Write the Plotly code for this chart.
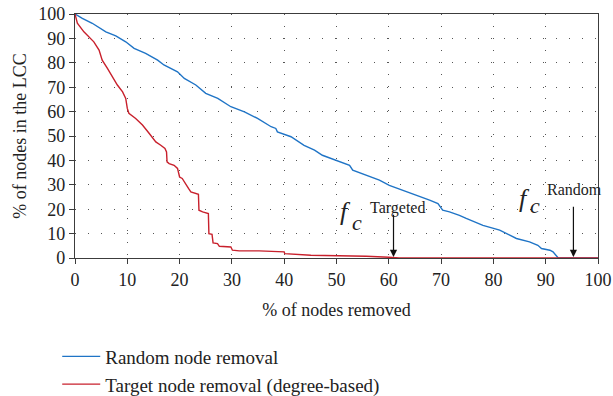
import plotly.graph_objects as go

# Percentage of nodes removed vs. size of the largest connected component (LCC)
random_x = [0, 1.4, 3.3, 4.9, 5.9, 7.8, 9.7, 11.3, 13.5, 15.8, 17.0, 19.6, 20.9, 23.1,
            25.0, 27.3, 29.8, 32.4, 34.9, 37.5, 38.4, 38.7, 41.3, 43.8, 45.8, 47.3,
            49.9, 52.5, 53.1, 55.7, 58.2, 60.1, 62.7, 65.2, 67.8, 69.4, 70.3, 71.6,
            73.5, 74.8, 78.0, 81.2, 84.4, 86.9, 88.5, 89.2, 90.8, 91.4, 92.2, 92.4, 100]
random_y = [100, 98.2, 96.2, 94.1, 92.7, 91.0, 88.6, 85.9, 83.9, 81.1, 79.1, 76.3, 73.6,
            70.9, 67.5, 65.4, 62.0, 59.9, 57.2, 53.8, 53.1, 51.7, 49.7, 46.2, 44.2, 42.1,
            40.1, 38.0, 36.0, 33.9, 31.9, 29.8, 27.8, 25.7, 23.7, 22.3, 19.6, 18.9,
            17.5, 16.2, 13.4, 11.4, 8.0, 6.6, 5.2, 3.9, 3.2, 2.5, 0.2, 0, 0]

target_x = [0, 0.45, 1.7, 2.7, 3.6, 4.6, 5.2, 6.2, 7.2, 8.1, 9.1, 9.7, 10.0, 10.3, 11.6,
            12.9, 14.2, 15.45, 16.4, 17.2, 17.5, 17.6, 18.0, 18.95, 19.6, 20.0, 20.5,
            21.1, 21.7, 22.15, 23.1, 23.6, 23.7, 24.4, 25.5, 25.6, 26.2, 26.4, 27.25,
            27.6, 29.8, 30.1, 31.4, 35.2, 40.0, 40.1, 45.1, 49.9, 55.7, 60.0, 62.0, 100]
target_y = [100, 96.2, 92.7, 90.7, 88.6, 85.2, 81.1, 77.7, 74.3, 70.9, 68.1, 65.4, 61.3,
            59.3, 57.2, 54.5, 51.0, 47.6, 46.2, 44.9, 43.5, 39.4, 38.7, 38.0, 36.7, 33.2,
            32.6, 30.8, 28.5, 27.1, 26.4, 26.1, 19.6, 18.9, 18.2, 10.0, 9.7, 6.2, 5.9,
            4.8, 4.5, 3.2, 2.9, 2.9, 2.5, 1.8, 1.1, 1.0, 0.7, 0.3, 0, 0]

tick_vals = [0, 10, 20, 30, 40, 50, 60, 70, 80, 90, 100]

# critical fractions marked by arrows
fc_targeted = 60.9
fc_random = 95.3

BLUE = "#1f74c6"
RED = "#c8202c"
FONT = "Liberation Serif"
AXIS_COLOR = "#3c3c3c"
TEXT_COLOR = "#222222"

fig = go.Figure()
fig.add_trace(go.Scatter(x=random_x, y=random_y, mode="lines",
                         name="Random node removal",
                         line=dict(color=BLUE, width=1.4)))
fig.add_trace(go.Scatter(x=target_x, y=target_y, mode="lines",
                         name="Target node removal (degree-based)",
                         line=dict(color=RED, width=1.4)))

axis_common = dict(
    range=[0, 100], tickvals=tick_vals, ticks="outside", ticklen=5,
    tickcolor=AXIS_COLOR, tickwidth=1.2,
    showline=True, linecolor=AXIS_COLOR, linewidth=1.3, mirror=True,
    showgrid=True, gridcolor="#555555", gridwidth=1,
    zeroline=False, tickfont=dict(family=FONT, size=18, color=TEXT_COLOR),
)

fig.update_xaxes(**axis_common, griddash="1px,11px",
                 title=dict(text="% of nodes removed",
                            font=dict(family=FONT, size=18, color=TEXT_COLOR),
                            standoff=14))
fig.update_yaxes(**axis_common, griddash="1px,12px",
                 title=dict(text="% of nodes in the LCC",
                            font=dict(family=FONT, size=18, color=TEXT_COLOR),
                            standoff=6))

# f_c labels with their arrows
for fx, cx, lx, ly, fy, cy, label in [
    (51.8, 54.0, 56.0, 20.6, 19.0, 14.6, "Targeted"),
    (86.0, 88.0, 89.9, 28.2, 24.3, 21.6, "Random"),
]:
    fig.add_annotation(x=fx, y=fy, xref="x", yref="y", text="<i>f</i>",
                       showarrow=False, font=dict(family=FONT, size=26, color=TEXT_COLOR))
    fig.add_annotation(x=cx, y=cy, xref="x", yref="y", text="<i>c</i>",
                       showarrow=False, font=dict(family=FONT, size=22, color=TEXT_COLOR))
    fig.add_annotation(x=lx, y=ly, xref="x", yref="y", text=label, xanchor="left",
                       showarrow=False, font=dict(family=FONT, size=16, color=TEXT_COLOR))

for ax_x, top in [(fc_targeted, 18.3), (fc_random, 21.6)]:
    fig.add_annotation(x=ax_x, y=0.4, ax=ax_x, ay=top, xref="x", yref="y",
                       axref="x", ayref="y", text="", showarrow=True,
                       arrowhead=2, arrowsize=1.2, arrowwidth=1.2, arrowcolor="#111111")

fig.update_layout(
    width=613, height=396,
    margin=dict(l=75, r=15, t=14, b=138, autoexpand=False),
    paper_bgcolor="white", plot_bgcolor="white",
    showlegend=True,
    legend=dict(x=-0.034, y=-0.326, xanchor="left", yanchor="top",
                itemwidth=38,
                font=dict(family=FONT, size=19, color=TEXT_COLOR),
                bgcolor="rgba(0,0,0,0)", tracegroupgap=0),
)

fig.write_html("out.html")
